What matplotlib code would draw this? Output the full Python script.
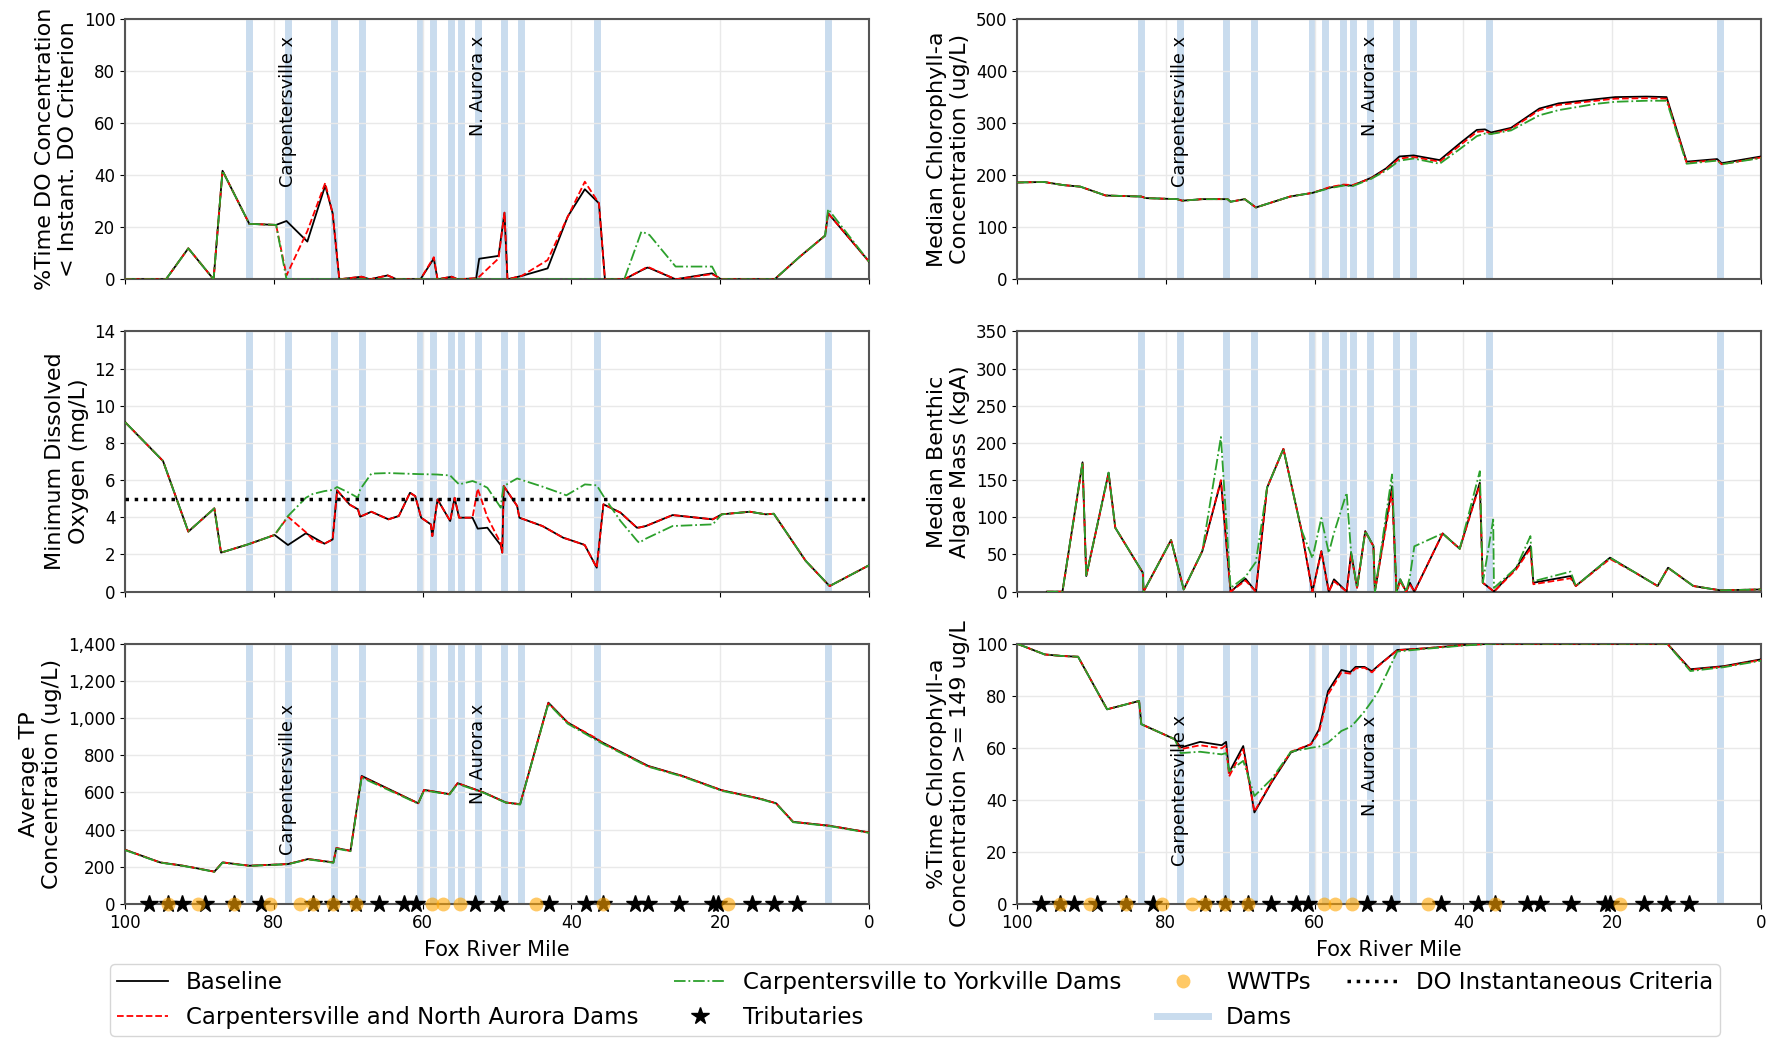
import numpy as np
import matplotlib
matplotlib.use('Agg')
import matplotlib.pyplot as plt
from matplotlib.ticker import StrMethodFormatter

# dam locations (river mile) and point sources
dam_miles = [83.4, 78.1, 71.9, 68.2, 60.4, 58.6, 56.2, 54.9, 52.6, 49.1, 46.8, 36.5, 5.5]
trib_miles = [96.8, 94.2, 92.4, 89.2, 85.3, 81.7, 74.8, 72.1, 68.9, 65.9, 62.5, 60.9,
              52.9, 49.8, 43.0, 38.0, 35.7, 31.4, 29.7, 25.6, 21.0, 20.3, 15.7, 12.8, 9.7]
wwtp_miles = [94.2, 90.2, 85.3, 80.5, 76.5, 74.8, 72.1, 68.9, 58.7, 57.3, 55.0, 44.8, 35.7, 19.0]
label_dams = ['Carpentersville x', 'N. Aurora x']
label_dam_miles = [78.1, 52.6]

# %Time DO < instantaneous criterion
pct_do_mile = [100, 94.5, 91.5, 88.1, 86.9, 83.3, 79.7, 78.3, 75.5, 73.1, 72.1, 71.2, 68.2, 67.1,
               64.7, 63.5, 60.3, 58.5, 58.0, 56.1, 55.3, 52.8, 52.4, 49.8, 49.0, 48.6, 46.7,
               43.2, 40.5, 38.2, 36.3, 35.5, 32.9, 30.6, 29.8, 29.5, 26.0, 21.1, 20.3, 19.9,
               12.7, 9.3, 5.9, 5.5, 0]
pct_do_base = [0, 0, 11.9, 0, 41.7, 21.3, 20.9, 22.4, 14.5, 36.0, 25.4, 0, 1.0, 0,
               1.5, 0, 0, 8.0, 0, 1.0, 0, 0.4, 7.9, 9.0, 25.6, 0, 1.3,
               4.2, 24.1, 34.6, 29.2, 0, 0, 3.4, 4.5, 4.3, 0, 2.3, 0.8, 0,
               0, 8.7, 16.8, 25.4, 6.8]
pct_do_cna = [0, 0, 11.9, 0, 41.7, 21.3, 20.9, 1.5, 18.5, 37.0, 25.4, 0, 1.0, 0,
              1.5, 0, 0, 8.5, 0, 1.0, 0, 0.4, 1.0, 8.0, 25.6, 0, 1.3,
              7.4, 24.0, 37.5, 29.2, 0, 0, 3.5, 4.8, 4.5, 0, 2.0, 0.8, 0,
              0, 8.7, 16.8, 25.4, 6.8]
pct_do_cty = [0, 0, 11.9, 0, 41.7, 21.3, 20.9, 0, 0, 0, 0, 0, 0, 0,
              0, 0, 0, 0, 0, 0, 0, 0, 0, 0, 0, 0, 0,
              0, 0, 0, 0, 0, 0, 18.3, 17.5, 17.0, 4.9, 4.9, 0.5, 0,
              0, 8.7, 16.8, 27.0, 6.8]

# median chlorophyll-a
chla_mile = [100, 96.4, 93.8, 91.5, 88.1, 83.3, 82.7, 78.5, 77.8, 75.1, 71.7, 71.3, 69.4, 67.9,
             63.3, 60.3, 58.0, 56.1, 54.9, 52.4, 50.4, 48.6, 46.7, 43.2, 40.5, 38.2, 37.1,
             36.3, 33.6, 29.8, 27.2, 22.2, 19.6, 15.4, 12.7, 10.0, 5.9, 5.3, 0]
chla_base = [186, 187, 181, 178, 161, 159, 156, 154, 151, 154, 154, 149, 154, 138,
             159, 166, 176, 181, 180, 195, 213, 236, 238, 229, 261, 287, 288,
             282, 291, 328, 338, 346, 350, 351, 350, 226, 231, 223, 236]
chla_cna = [186, 187, 181, 178, 161, 159, 156, 154, 151, 154, 154, 149, 154, 138,
            159, 166, 177, 182, 181, 194, 211, 232, 235, 226, 257, 283, 285,
            279, 289, 325, 335, 343, 347, 348, 347, 224, 229, 221, 234]
chla_cty = [186, 187, 181, 178, 161, 159, 156, 154, 151, 154, 154, 149, 154, 138,
            159, 166, 175, 180, 179, 193, 209, 228, 232, 222, 250, 275, 280,
            279, 286, 315, 325, 337, 341, 343, 343, 222, 228, 221, 233]

# minimum dissolved oxygen
do_mile = [100, 94.9, 91.5, 88.0, 87.1, 83.5, 79.9, 78.1, 75.7, 74.8, 73.2, 72.1, 71.5, 69.8,
           68.7, 68.4, 66.9, 64.6, 63.2, 61.7, 61.0, 60.2, 58.9, 58.7, 58.0, 56.3, 55.7,
           55.1, 53.3, 52.6, 51.3, 49.5, 49.3, 49.1, 47.3, 47.0, 43.9, 41.1, 40.7, 38.4,
           38.2, 36.6, 35.7, 33.4, 31.2, 30.9, 30.0, 26.4, 21.0, 19.8, 16.0, 13.9, 12.8,
           8.5, 5.3, 0]
do_base = [9.12, 7.03, 3.23, 4.48, 2.10, 2.54, 3.05, 2.51, 3.14, 2.95, 2.58, 2.81, 5.45, 4.68,
           4.43, 4.03, 4.30, 3.89, 4.07, 5.32, 5.14, 3.98, 3.62, 2.99, 4.96, 3.80, 5.05,
           3.98, 3.98, 3.39, 3.44, 2.5, 2.10, 5.68, 4.61, 3.98, 3.53, 2.90, 2.85, 2.54,
           2.50, 1.29, 4.70, 4.25, 3.44, 3.45, 3.53, 4.12, 3.89, 4.16, 4.30, 4.16, 4.19,
           1.65, 0.30, 1.42]
do_cna = [9.12, 7.03, 3.23, 4.48, 2.10, 2.54, 3.05, 4.03, 3.2, 2.81, 2.58, 2.81, 5.45, 4.68,
          4.43, 4.03, 4.30, 3.89, 4.07, 5.32, 5.14, 3.98, 3.62, 2.99, 4.96, 3.80, 5.05,
          3.98, 3.98, 5.54, 4.0, 2.6, 2.10, 5.68, 4.61, 3.98, 3.53, 2.90, 2.85, 2.54,
          2.50, 1.29, 4.70, 4.25, 3.44, 3.45, 3.53, 4.12, 3.89, 4.16, 4.30, 4.16, 4.19,
          1.65, 0.30, 1.42]
do_cty = [9.12, 7.03, 3.23, 4.48, 2.10, 2.54, 3.05, 4.07, 5.05, 5.25, 5.41, 5.47, 5.63, 5.3,
          5.05, 5.5, 6.35, 6.38, 6.36, 6.34, 6.33, 6.32, 6.31, 6.31, 6.30, 6.25, 6.0,
          5.77, 5.95, 5.85, 5.59, 4.52, 5.2, 5.68, 6.09, 6.05, 5.65, 5.25, 5.18, 5.72,
          5.77, 5.72, 5.14, 3.8, 2.75, 2.63, 2.85, 3.53, 3.62, 4.16, 4.30, 4.16, 4.19,
          1.65, 0.30, 1.42]
do_criterion = 5.0

# median benthic algae mass
algae_mile = [96.0, 93.9, 91.2, 90.7, 87.7, 86.8, 83.1, 83.0, 79.3, 77.6, 75.1, 72.6, 71.3,
              69.3, 67.9, 66.4, 64.2, 61.8, 60.3, 59.1, 58.1, 57.4, 55.7, 55.1, 54.3, 53.2,
              52.1, 51.9, 49.6, 49.0, 48.5, 47.7, 47.2, 46.6, 42.8, 40.5, 37.8, 37.4, 36.0,
              35.9, 32.9, 31.0, 30.6, 25.6, 24.9, 20.3, 16.9, 13.9, 12.5, 9.1, 5.5, 0]
algae_base = [0, 0, 174, 21, 160, 86, 25.5, 0, 69.4, 3, 54.6, 148.6, 0,
              17.5, 0, 139.7, 192, 83.7, 0, 54.6, 0, 16.6, 0, 52.4, 5.4, 81.5,
              61.3, 0, 141.9, 0, 16.6, 0, 12, 0, 78.3, 57.7, 146.4, 12, 1,
              0, 32.2, 61.3, 12, 21, 7.6, 45.7, 25.5, 7.6, 32.2, 7.6, 1.8, 3]
algae_cna = [0, 0, 172, 21, 158, 86, 25.5, 0, 69.4, 3, 54.6, 150, 0,
             15, 0, 139.7, 192, 83.7, 0, 54, 0, 14, 0, 50, 5.4, 80,
             61.3, 0, 135, 0, 14, 0, 10, 0, 78.3, 57.7, 144, 12, 1,
             0, 30, 58, 10, 18, 7.6, 44, 25.5, 7.6, 32.2, 7.6, 1.8, 3]
algae_cty = [0, 0, 174, 21, 160, 86, 25.5, 0, 69.4, 3, 54.6, 208, 5,
             20, 40, 139.7, 192, 83.7, 45, 99, 52, 79, 133, 52.4, 5.4, 81.5,
             61.3, 0, 157.6, 0, 16.6, 0, 20, 61, 78.3, 57.7, 162, 12, 97,
             5, 32.2, 74.7, 14, 27, 7.6, 45.7, 25.5, 7.6, 32.2, 7.6, 1.8, 3]

# average total phosphorus
tp_mile = [100, 95.3, 92.2, 90.3, 88.0, 86.9, 83.3, 78.1, 75.4, 72.0, 71.6, 69.7, 68.2, 60.6,
           59.8, 56.4, 55.3, 51.8, 48.8, 46.9, 43.1, 40.5, 36.6, 35.8, 29.7, 25.1, 19.8,
           14.4, 12.5, 10.2, 5.3, 0]
tp_base = [292, 224, 206, 192, 174, 224, 206, 215, 242, 224, 301, 286, 689, 542,
           614, 591, 650, 600, 546, 537, 1083, 976, 886, 868, 743, 689, 612,
           564, 542, 442, 421, 385]
tp_cna = [292, 224, 206, 192, 174, 224, 206, 215, 242, 224, 301, 286, 685, 542,
          614, 591, 650, 600, 546, 537, 1080, 976, 890, 866, 741, 689, 612,
          564, 542, 442, 421, 385]
tp_cty = [290, 223, 205, 191, 173, 222, 205, 214, 240, 222, 298, 284, 680, 540,
          611, 589, 646, 598, 545, 535, 1078, 970, 880, 862, 739, 686, 609,
          562, 540, 440, 419, 383]

# %Time chlorophyll-a >= 149 ug/L
pct_chla_mile = [100, 96.3, 94.0, 91.8, 87.9, 83.6, 83.3, 78.8, 78.0, 75.4, 72.5, 71.9, 71.5,
                 69.6, 68.1, 65.8, 63.2, 60.5, 59.4, 58.2, 56.4, 55.2, 54.5, 53.3, 52.3,
                 51.4, 48.9, 45.3, 40.0, 36.2, 12.6, 9.5, 5.0, 0]
pct_chla_base = [100, 95.9, 95.3, 95.0, 74.8, 78.0, 69.1, 63.3, 60.1, 62.3, 61.0, 62.3, 50.5,
                 60.7, 35.2, 46.7, 58.2, 61.4, 67.1, 81.8, 89.9, 89.1, 91.1, 91.1, 89.4,
                 91.7, 97.6, 98.2, 99.5, 100, 100, 90.2, 91.4, 94.0]
pct_chla_cna = [100, 95.9, 95.3, 95.0, 74.8, 78.0, 69.1, 63.3, 59.5, 61.0, 59.8, 61.0, 49.0,
                59.5, 35.5, 47.0, 58.5, 61.4, 66.0, 80.5, 89.0, 88.5, 90.5, 90.8, 89.0,
                91.5, 97.5, 98.2, 99.5, 100, 100, 90.0, 91.2, 93.8]
pct_chla_cty = [100, 95.9, 95.3, 95.0, 74.8, 78.0, 69.1, 63.3, 58.0, 58.5, 57.5, 58.0, 51.0,
                55.0, 41.5, 48.0, 58.5, 60.0, 60.5, 62.0, 66.5, 68.0, 70.0, 74.0, 78.0,
                82.0, 97.0, 98.0, 99.3, 100, 100, 89.5, 91.0, 93.5]

panels = [
    (pct_do_mile, pct_do_base, pct_do_cna, pct_do_cty, (0, 100), 20,
     '%Time DO Concentration\n< Instant. DO Criterion', 0.935),
    (chla_mile, chla_base, chla_cna, chla_cty, (0, 500), 100,
     'Median Chlorophyll-a\nConcentration (ug/L)', 0.935),
    (do_mile, do_base, do_cna, do_cty, (0, 14), 2,
     'Minimum Dissolved\nOxygen (mg/L)', None),
    (algae_mile, algae_base, algae_cna, algae_cty, (0, 350), 50,
     'Median Benthic\nAlgae Mass (kgA)', None),
    (tp_mile, tp_base, tp_cna, tp_cty, (0, 1400), 200,
     'Average TP\nConcentration (ug/L)', 0.77),
    (pct_chla_mile, pct_chla_base, pct_chla_cna, pct_chla_cty, (0, 100), 20,
     '%Time Chlorophyll-a\nConcentration >= 149 ug/L', 0.725),
]

fig, axes = plt.subplots(3, 2, sharex=True, figsize=(17.79, 10.39), dpi=100)
fig.subplots_adjust(left=0.0703, right=0.9899, top=0.9817, bottom=0.1299,
                    wspace=0.199, hspace=0.2)

for i, ax in enumerate(axes.flat):
    mile, base, cna, cty, ylim, step, ylabel, lab_y = panels[i]
    ax.grid(True, color='#e9e9e9', lw=1.0, zorder=0)
    for d in dam_miles:
        dam_ln = ax.axvline(d, color='#c9dcee', lw=5, zorder=1)
    l_base, = ax.plot(mile, base, color='black', lw=1.3, zorder=3)
    l_cna, = ax.plot(mile, cna, color='red', ls='--', lw=1.3, zorder=4)
    l_cty, = ax.plot(mile, cty, color='#2ca02c', ls='-.', lw=1.3, zorder=5)
    ax.set_ylim(*ylim)
    ax.set_yticks(np.arange(ylim[0], ylim[1] + step / 2, step))
    ax.set_ylabel(ylabel, fontsize=16)
    ax.tick_params(labelsize=12)
    for sp in ax.spines.values():
        sp.set_color('#555555')
        sp.set_linewidth(1.5)
    if lab_y is not None:
        for name, dm in zip(label_dams, label_dam_miles):
            ax.text(dm, lab_y, name, rotation=90, ha='center', va='top', fontsize=12.8,
                    transform=ax.get_xaxis_transform(), zorder=6)
    if i >= 4:
        l_trib, = ax.plot(trib_miles, np.zeros(len(trib_miles)), ls='none', marker='*',
                          color='black', ms=13, zorder=7, clip_on=False)
        l_wwtp, = ax.plot(wwtp_miles, np.zeros(len(wwtp_miles)), ls='none', marker='o',
                          color='orange', alpha=0.6, ms=10, mec='none', zorder=8, clip_on=False)
        ax.set_xlabel('Fox River Mile', fontsize=15, labelpad=6)

do_ln = axes[1, 0].axhline(do_criterion, color='black', ls=':', lw=2.5, zorder=6)
axes[2, 0].yaxis.set_major_formatter(StrMethodFormatter('{x:,.0f}'))
axes[0, 0].set_xlim(100, 0)
axes[0, 0].set_xticks([100, 80, 60, 40, 20, 0])

handles = [l_base, l_cna, l_cty, l_trib, l_wwtp, dam_ln, do_ln]
labels = ['Baseline', 'Carpentersville and North Aurora Dams', 'Carpentersville to Yorkville Dams',
          'Tributaries', 'WWTPs', 'Dams', 'DO Instantaneous Criteria']
fig.legend(handles, labels, ncol=4, loc='lower left', mode='expand', fontsize=16.5,
           bbox_to_anchor=(108 / 1779, 0.001, (1722 - 108) / 1779, 0.07),
           handlelength=2.2, labelspacing=0.5, borderpad=0.3, borderaxespad=0.1)

fig.savefig('out.png', dpi=100)
